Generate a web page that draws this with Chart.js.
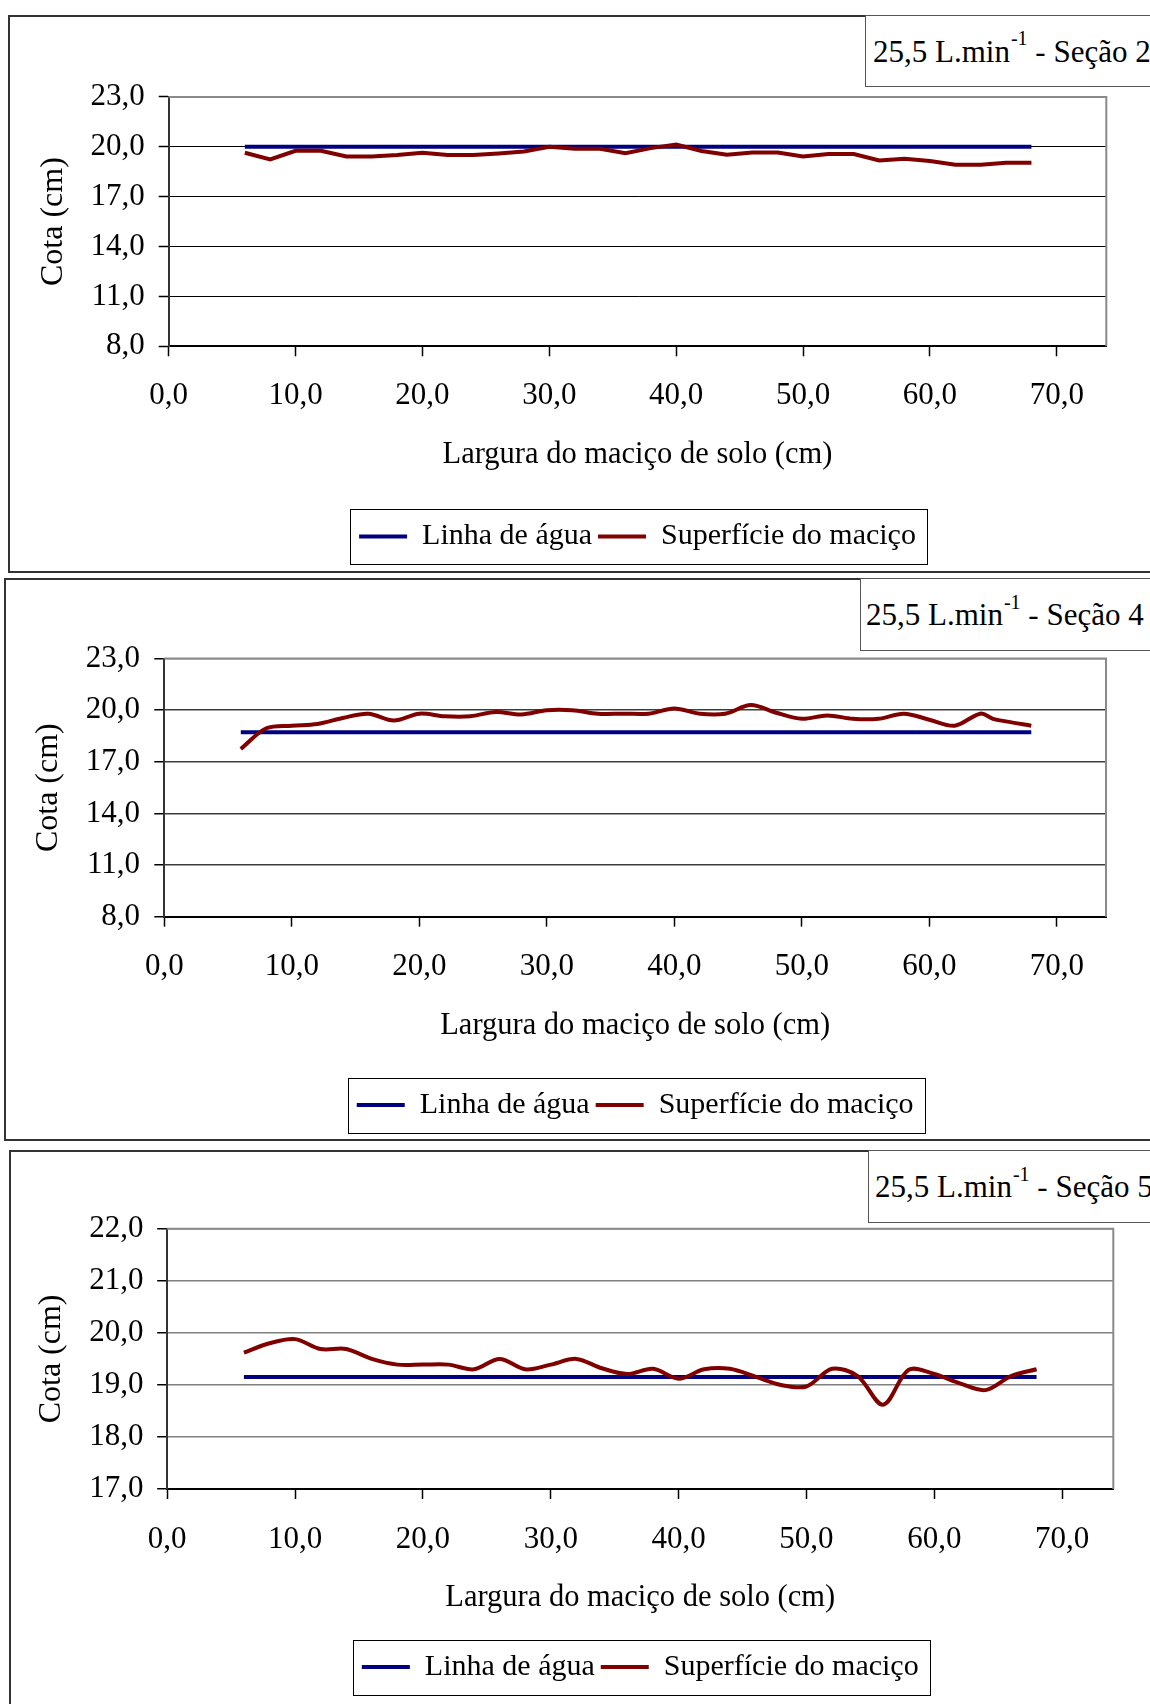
<!DOCTYPE html>
<html lang="pt">
<head>
<meta charset="utf-8">
<title>Cota da linha de água e da superfície do maciço — 25,5 L.min-1</title>
<script src="https://cdn.jsdelivr.net/npm/chart.js@4.4.1/dist/chart.umd.min.js"></script>
<style>
  html, body { margin: 0; padding: 0; background: #fff; }
  body { width: 1150px; height: 1704px; position: relative; overflow: hidden;
         font-family: "Liberation Serif", "Times New Roman", serif; color: #000; }
  .panel { position: absolute; border: 2px solid #333; box-sizing: border-box; background: #fff; }
  .tag { position: absolute; border: 1px solid #555; box-sizing: border-box; background: #fff;
         font-size: 31px; line-height: 1; white-space: nowrap; display: flex; align-items: center; }
  .tag .sup { font-size: 20px; position: relative; top: -13px; margin-left: 1px; }
  canvas { position: absolute; }
</style>
</head>
<body>

<div class="panel" style="left:8px;top:15px;width:1160px;height:558px"></div>
<div class="panel" style="left:4px;top:578px;width:1160px;height:563px"></div>
<div class="panel" style="left:9px;top:1150px;width:1160px;height:600px"></div>

<canvas id="c2" width="1141" height="556" style="left:9px;top:16px"></canvas>
<canvas id="c4" width="1145" height="561" style="left:5px;top:579px"></canvas>
<canvas id="c5" width="1141" height="552" style="left:9px;top:1152px"></canvas>

<div class="tag" style="left:865px;top:15px;width:300px;height:72px;padding-left:7px">25,5 L.min<span class="sup">-1</span>&nbsp;- Seção 2</div>
<div class="tag" style="left:860px;top:578px;width:300px;height:73px;padding-left:5px">25,5 L.min<span class="sup">-1</span>&nbsp;- Seção 4</div>
<div class="tag" style="left:868px;top:1150px;width:300px;height:73px;padding-left:6px">25,5 L.min<span class="sup">-1</span>&nbsp;- Seção 5</div>

<script>
// ---- data (cm) ----
const seriesNames = ['Linha de água', 'Superfície do maciço'];
const xTickValues = [0, 10, 20, 30, 40, 50, 60, 70];

// Seção 2
const sec2X = [6, 8, 10, 12, 14, 16, 18, 20, 22, 24, 26, 28, 30, 32, 34, 36,
               38, 40, 42, 44, 46, 48, 50, 52, 54, 56, 58, 60, 62, 64, 66, 68];
const sec2Surface = [19.64, 19.24, 19.76, 19.76, 19.42, 19.42, 19.5, 19.64, 19.5, 19.5, 19.6, 19.72, 20.0, 19.88, 19.88, 19.62,
                     19.92, 20.14, 19.75, 19.52, 19.66, 19.66, 19.42, 19.56, 19.56, 19.18, 19.28, 19.14, 18.92, 18.92, 19.04, 19.04];
const sec2WaterX = [6, 68];
const sec2Water = [20.0, 20.0];

// Seção 4
const sec4X = [6, 8, 10, 12, 14, 16, 18, 20, 22, 24, 26, 28, 30, 32, 34, 36,
               38, 40, 42, 44, 46, 48, 50, 52, 54, 56, 58, 60, 62, 64, 65, 66, 68];
const sec4Surface = [17.75, 18.95, 19.1, 19.2, 19.55, 19.8, 19.4, 19.8, 19.65, 19.65, 19.9, 19.75, 20.0, 20.0, 19.8, 19.8,
                     19.8, 20.1, 19.8, 19.8, 20.3, 19.85, 19.5, 19.7, 19.5, 19.5, 19.8, 19.45, 19.1, 19.8, 19.5, 19.35, 19.1];
const sec4WaterX = [6, 68];
const sec4Water = [18.72, 18.72];

// Seção 5
const sec5X = [6, 8, 10, 12, 14, 16, 18, 20, 22, 24, 26, 28, 30, 32, 34, 36,
               38, 40, 42, 44, 46, 48, 50, 52, 54, 56, 58, 60, 62, 64, 66, 68];
const sec5Surface = [19.62, 19.8, 19.88, 19.69, 19.69, 19.5, 19.39, 19.39, 19.39, 19.3, 19.5, 19.3, 19.39, 19.5, 19.32, 19.21,
                     19.31, 19.12, 19.3, 19.31, 19.16, 19.0, 18.97, 19.31, 19.17, 18.62, 19.29, 19.21, 19.03, 18.9, 19.17, 19.3];
const sec5WaterX = [6, 68];
const sec5Water = [19.15, 19.15];

// ---- drawing ----
const SERIF = "'Liberation Serif', 'Times New Roman', serif";
const BLUE = '#000080';
const RED = '#800000';
Chart.defaults.font.family = SERIF;
Chart.defaults.color = '#000';

const fmt = v => v.toFixed(1).replace('.', ',');
const toPoints = (xs, ys) => xs.map((x, i) => ({ x: x, y: ys[i] }));

// grey frame on the top and right of the plot area
const plotFrame = {
  id: 'plotFrame',
  beforeDatasetsDraw(chart, args, opts) {
    const { ctx, chartArea: a } = chart;
    ctx.save();
    ctx.strokeStyle = opts.color;
    ctx.lineWidth = opts.width;
    ctx.beginPath();
    ctx.moveTo(a.left, a.top);
    ctx.lineTo(a.right, a.top);
    ctx.lineTo(a.right, a.bottom);
    ctx.stroke();
    ctx.restore();
  }
};

// rectangle drawn around the legend entries
const legendFrame = {
  id: 'legendFrame',
  afterDraw(chart, args, opts) {
    const boxes = chart.legend && chart.legend.legendHitBoxes;
    if (!boxes || !boxes.length) return;
    const first = boxes[0], last = boxes[boxes.length - 1];
    const cy = first.top + first.height / 2;
    const l = first.left - opts.padLeft;
    const r = last.left + last.width + opts.padRight;
    const ctx = chart.ctx;
    ctx.save();
    ctx.strokeStyle = '#000';
    ctx.lineWidth = 1;
    ctx.strokeRect(Math.round(l) + 0.5, Math.round(cy - opts.halfHeight) + 0.5,
                   Math.round(r - l), Math.round(2 * opts.halfHeight));
    ctx.restore();
  }
};

function drawPanel(p) {
  return new Chart(document.getElementById(p.canvas), {
    type: 'line',
    data: {
      datasets: [
        {
          label: seriesNames[0],
          data: toPoints(p.waterX, p.water),
          borderColor: BLUE, backgroundColor: BLUE,
          borderWidth: 4, pointRadius: 0, tension: 0, order: 1
        },
        {
          label: seriesNames[1],
          data: toPoints(p.x, p.surface),
          borderColor: RED, backgroundColor: RED,
          borderWidth: 4, pointRadius: 0, tension: p.tension, order: 0
        }
      ]
    },
    options: {
      responsive: false,
      animation: false,
      devicePixelRatio: 1,
      events: [],
      layout: { padding: { left: 0, top: p.pad.top, right: p.pad.right, bottom: p.pad.bottom } },
      scales: {
        x: {
          type: 'linear',
          min: 0, max: p.xMax,
          afterBuildTicks: s => { s.ticks = xTickValues.map(v => ({ value: v })); },
          afterFit: s => { s.height = p.xh; },
          grid: { display: true, drawOnChartArea: false, drawTicks: true, tickLength: 10,
                  tickColor: '#000', tickWidth: 1.5 },
          border: { display: true, color: '#000', width: 2 },
          ticks: { callback: v => fmt(v), padding: p.xTickPad, maxRotation: 0, autoSkip: false,
                   font: { size: 31 }, color: '#000' },
          title: { display: true, text: 'Largura do maciço de solo (cm)',
                   font: { size: 30.5 }, color: '#000', padding: { top: 0, bottom: p.xTitlePad } }
        },
        y: {
          min: p.yMin, max: p.yMax,
          afterFit: s => { s.width = p.yw; },
          ticks: { stepSize: p.yStep, callback: v => fmt(v), padding: p.yTickPad,
                   font: { size: 31 }, color: '#000' },
          grid: { color: c => (c.tick && c.tick.value === p.yMax) ? '#8a8a8a' : p.grid,
                  lineWidth: p.gridWidth, tickLength: 10, tickColor: '#000', tickWidth: 1.5 },
          border: { display: true, color: '#333', width: 2 },
          title: { display: true, text: 'Cota (cm)', font: { size: 32 }, color: '#000',
                   padding: { top: p.yTitlePad, bottom: 0 } }
        }
      },
      plugins: {
        legend: {
          display: true,
          position: 'bottom',
          fullSize: false,
          align: 'center',
          labels: {
            usePointStyle: true, pointStyle: 'line', pointStyleWidth: 48,
            padding: 6, color: '#000', font: { size: 30 },
            sort: (a, b) => a.datasetIndex - b.datasetIndex
          }
        },
        tooltip: { enabled: false },
        plotFrame: { color: '#8a8a8a', width: 2 },
        legendFrame: { padLeft: 9, padRight: 11, halfHeight: 27.5 }
      }
    },
    plugins: [plotFrame, legendFrame]
  });
}

drawPanel({
  canvas: 'c2', x: sec2X, surface: sec2Surface, waterX: sec2WaterX, water: sec2Water,
  yMin: 8, yMax: 23, yStep: 3, xMax: 73.9, tension: 0,
  grid: '#000', gridWidth: 1,
  pad: { top: 80.9, right: 43.7, bottom: 10.5 }, yw: 159.7, xh: 169.2,
  xTickPad: 21.1, xTitlePad: 42.2, yTickPad: 14, yTitlePad: 25.8
});

drawPanel({
  canvas: 'c4', x: sec4X, surface: sec4Surface, waterX: sec4WaterX, water: sec4Water,
  yMin: 8, yMax: 23, yStep: 3, xMax: 73.86, tension: 0.33,
  grid: '#3c3c3c', gridWidth: 1.5,
  pad: { top: 79.6, right: 44, bottom: 10 }, yw: 159.3, xh: 167.3,
  xTickPad: 21.7, xTitlePad: 40.2, yTickPad: 14.3, yTitlePad: 24.8
});

drawPanel({
  canvas: 'c5', x: sec5X, surface: sec5Surface, waterX: sec5WaterX, water: sec5Water,
  yMin: 17, yMax: 22, yStep: 1, xMax: 74.0, tension: 0.33,
  grid: '#808080', gridWidth: 1.5,
  pad: { top: 76.8, right: 36.7, bottom: 12 }, yw: 158.2, xh: 157,
  xTickPad: 22.4, xTitlePad: 29.7, yTickPad: 13.7, yTitlePad: 23.8
});
</script>
</body>
</html>
